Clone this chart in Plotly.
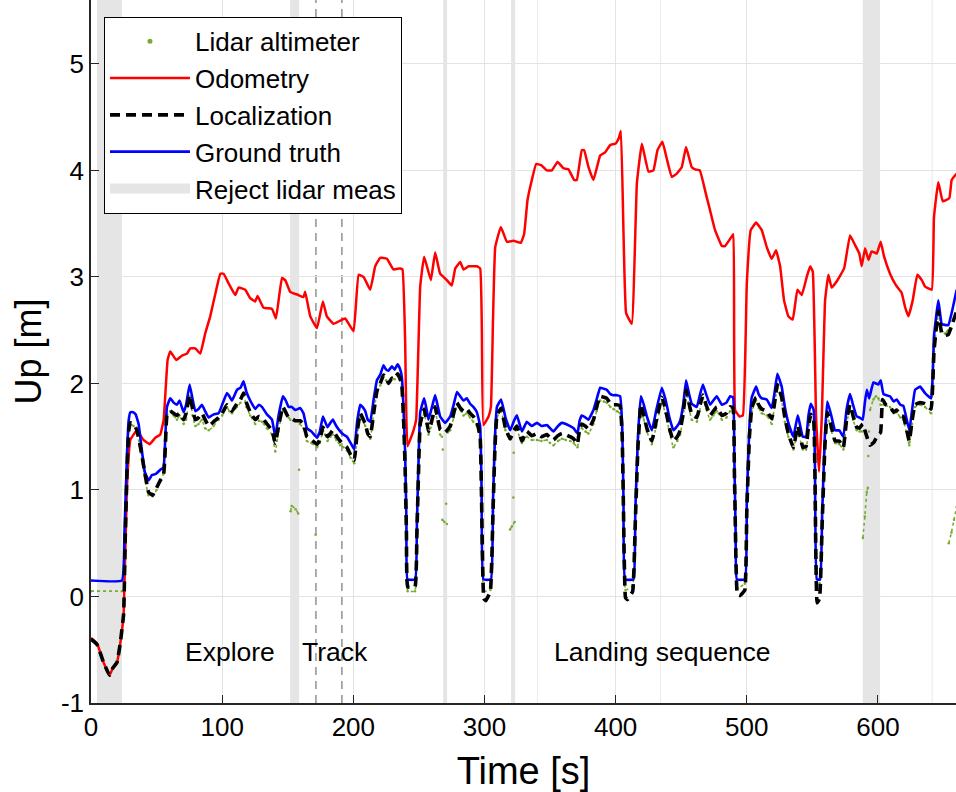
import plotly.graph_objects as go

# ---------------- data ----------------
gt_t = [0, 23.6, 25.5, 27.5, 28.7, 30, 32, 34, 36.3, 38.5, 41, 43.9, 46.4, 49.5, 52.8, 55.3, 56.5, 57.9, 60.4, 63,
        65.5, 67.5, 70.6, 72.5, 75.2, 77.5, 79.5, 82, 84.6, 87, 89.7, 93.5, 97.3, 100, 103.6, 105.5, 107.5, 111.3,
        114, 116.3, 118.5, 121.4, 125.2, 128, 130.3, 134.1, 138, 140.5, 143, 146.3, 148.5, 150.6, 153, 155.7,
        159.5, 162, 164.6, 168, 172.3, 174.5, 176.8, 178.5, 180.3, 182.5, 184.4, 187, 190, 192.5, 195.1, 198,
        200.7, 203, 205.3, 207, 209.1, 211, 212.9, 215.5, 218, 220.5, 223, 225, 226.8, 229.4, 231.5, 233.7,
        235.5, 237, 238.5, 239.5, 240.5, 241.3, 247.2, 248.5, 250, 251, 254, 255.8, 257.3, 260, 262.4, 264.5,
        266.2, 270, 273.9, 276.5, 279, 281.5, 284, 286.5, 289, 291.5, 294.2, 296.7, 297.8, 299.2, 304.9, 306.5,
        308, 309.5, 312.7, 316, 319.6, 322.5, 324.7, 328.5, 332.3, 336, 340, 343.5, 347.6, 350, 352.6, 356, 359,
        362, 365.3, 368, 370.9, 372.5, 374.2, 377, 379.3, 383.1, 385.5, 388.2, 391, 393.3, 396, 398.3, 401,
        403.4, 405, 406, 407.2, 413.6, 415, 417, 419.2, 421.5, 423.8, 427.6, 431, 435.2, 438, 441, 444, 447,
        449.2, 451.5, 453.7, 456, 458, 461.9, 464, 466.5, 469, 472, 474.5, 477.1, 481, 484.5, 487.3, 489.5,
        490.5, 491.5, 492.4, 498.7, 500, 502, 503.8, 507.1, 509, 511.4, 515.2, 519, 521, 523.3, 526.6, 529,
        531.7, 535.5, 538.9, 542.7, 545.2, 547, 548.8, 551, 552, 553.4, 555.9, 557.5, 559.5, 561.4, 564, 567.3,
        570.5, 573.6, 576, 578.7, 581, 583.8, 586, 588.4, 590, 591.5, 593.3, 596.5, 600.3, 602.1, 604.2, 609.2,
        612, 614.3, 617, 619.4, 623.9, 626, 628.3, 632.1, 635.9, 640.5, 641.8, 642.7, 646, 648.6, 651, 653.7,
        656.7, 660]
gt_up = [0.15, 0.15, 0.6, 1.35, 1.65, 1.73, 1.73, 1.71, 1.62, 1.4, 1.17, 1.09, 1.14, 1.15, 1.19, 1.21, 1.45, 1.78,
         1.86, 1.82, 1.80, 1.84, 1.73, 1.80, 1.99, 1.85, 1.74, 1.76, 1.80, 1.74, 1.68, 1.71, 1.72, 1.80, 1.91, 1.88,
         1.84, 1.94, 1.96, 2.02, 1.92, 1.84, 1.76, 1.80, 1.78, 1.71, 1.66, 1.50, 1.70, 1.88, 1.84, 1.78, 1.78, 1.75,
         1.77, 1.72, 1.58, 1.55, 1.49, 1.55, 1.69, 1.64, 1.59, 1.63, 1.66, 1.60, 1.55, 1.52, 1.50, 1.44, 1.38, 1.65,
         1.80, 1.78, 1.74, 1.66, 1.64, 1.85, 2.03, 2.08, 2.17, 2.13, 2.12, 2.16, 2.13, 2.18, 2.14, 2.06, 1.7, 1.35,
         0.7, 0.16, 0.16, 0.7, 1.4, 1.73, 1.86, 1.76, 1.66, 1.78, 1.89, 1.78, 1.69, 1.63, 1.69, 1.80, 1.92, 1.88,
         1.84, 1.86, 1.81, 1.78, 1.73, 1.60, 1.0, 0.16, 0.16, 0.9, 1.5, 1.78, 1.85, 1.68, 1.56, 1.65, 1.70, 1.55,
         1.64, 1.60, 1.63, 1.60, 1.61, 1.58, 1.55, 1.60, 1.63, 1.62, 1.60, 1.58, 1.53, 1.65, 1.70, 1.68, 1.66, 1.75,
         1.85, 1.96, 1.95, 1.94, 1.90, 1.89, 1.89, 1.88, 1.6, 0.9, 0.16, 0.16, 0.8, 1.5, 1.88, 1.80, 1.69, 1.56,
         1.75, 1.96, 1.85, 1.68, 1.56, 1.60, 1.65, 1.80, 2.03, 1.90, 1.81, 1.78, 1.88, 1.99, 1.90, 1.80, 1.84, 1.88,
         1.80, 1.82, 1.88, 1.87, 1.3, 0.6, 0.16, 0.16, 0.9, 1.6, 1.87, 1.97, 1.90, 1.86, 1.85, 1.77, 1.90, 2.09,
         1.97, 1.78, 1.63, 1.50, 1.70, 1.50, 1.50, 1.70, 1.81, 1.75, 1.2, 0.16, 0.16, 0.8, 1.5, 1.83, 1.72, 1.56,
         1.56, 1.50, 1.75, 1.90, 1.80, 1.69, 1.68, 1.66, 1.82, 1.94, 1.86, 2.01, 1.99, 2.03, 1.90, 1.88, 1.83, 1.85,
         1.80, 1.79, 1.56, 1.75, 1.94, 1.97, 1.91, 1.86, 2.1, 2.44, 2.78, 2.56, 2.55, 2.55, 2.69, 2.88]

odo_t = [0, 4.6, 9.6, 14.2, 16.7, 19.8, 22.3, 24.9, 27.4, 30, 35, 40, 44.7, 49, 52.8, 55.4, 58.4, 60.4, 65, 69.3,
         73.2, 75.7, 79.5, 83.3, 87.1, 90.9, 95.5, 98.6, 101.1, 104.9, 110, 112.5, 117.6, 121.4, 125.2, 127,
         131.6, 138, 141, 145.6, 148.1, 151.9, 158.2, 162, 163.3, 167.2, 172.3, 176.8, 179.8, 184.9, 190, 193.8,
         200.2, 204, 207.8, 212.9, 216.7, 220.5, 225.6, 230.6, 235.7, 237.5, 239.5, 241.3, 245.9, 247.9, 251,
         254, 259.1, 262.4, 266.2, 271.3, 275.1, 277.7, 281.5, 284, 287.9, 294.2, 296.7, 298, 299.2, 303.1,
         304.9, 306.5, 308.2, 312.5, 317.1, 322.2, 327.7, 330.2, 332.8, 336.1, 339.4, 343.2, 347.6, 351.4, 355.7,
         360.2, 364, 368.4, 370.4, 374.2, 376, 379.3, 383.1, 388.2, 392, 396, 399.8, 402.3, 404, 406, 408, 412.3,
         416.2, 420, 425, 428.8, 431.9, 435.7, 439, 442.8, 446.6, 450.4, 453.7, 458, 460.6, 464.2, 468.8, 471.9,
         475.8, 481, 483.4, 488.5, 489.8, 491.1, 494.4, 497, 500, 503, 507.1, 511.4, 515.2, 519, 522.3, 525.4,
         528.4, 531.7, 535, 538.6, 541.9, 545.7, 548.3, 550.3, 552.8, 555.1, 557.2, 559.7, 562.2, 564.7, 568.6,
         574.2, 578.7, 582.5, 585.8, 587.6, 590.2, 592.7, 595.2, 599.1, 602.1, 604.7, 609.2, 613.8, 618.1, 620.6,
         623.2, 626.5, 630, 633.4, 635.9, 641, 642.7, 646, 649.4, 654.4, 656.2, 660]
odo_up = [-0.39, -0.44, -0.62, -0.74, -0.67, -0.62, -0.44, -0.16, 1.03, 1.47, 1.56, 1.47, 1.43, 1.49, 1.52, 1.66,
          2.22, 2.30, 2.22, 2.26, 2.28, 2.33, 2.33, 2.28, 2.47, 2.63, 2.88, 3.03, 3.03, 2.94, 2.83, 2.90, 2.88,
          2.80, 2.77, 2.82, 2.71, 2.70, 2.61, 2.99, 2.97, 2.86, 2.83, 2.81, 2.86, 2.63, 2.52, 2.77, 2.63, 2.56,
          2.59, 2.61, 2.49, 3.02, 3.00, 2.88, 3.10, 3.18, 3.17, 3.07, 3.08, 3.07, 2.4, 1.41, 1.56, 1.66, 2.91,
          3.19, 2.97, 3.23, 3.03, 2.97, 2.92, 3.08, 3.14, 3.07, 3.10, 3.10, 3.08, 2.5, 1.61, 1.69, 1.78, 2.6,
          3.28, 3.47, 3.33, 3.34, 3.32, 3.40, 3.72, 3.91, 4.06, 4.05, 4.00, 4.00, 4.08, 4.02, 4.01, 3.91, 3.91,
          4.19, 4.19, 4.03, 3.91, 4.14, 4.17, 4.24, 4.25, 4.30, 4.37, 3.41, 2.66, 2.56, 3.88, 4.25, 3.99, 4.00,
          4.19, 4.27, 4.11, 3.94, 3.97, 4.03, 4.22, 4.03, 4.01, 4.00, 3.78, 3.63, 3.44, 3.29, 3.29, 3.38, 3.40,
          1.75, 1.69, 1.70, 2.94, 3.44, 3.51, 3.44, 3.28, 3.17, 3.25, 3.10, 2.78, 2.63, 2.60, 2.88, 2.83, 3.00,
          3.10, 3.05, 1.69, 1.17, 1.69, 2.78, 3.02, 2.90, 2.96, 3.08, 3.39, 3.30, 3.22, 3.10, 3.27, 3.16, 3.24,
          3.22, 3.33, 3.19, 3.03, 2.92, 2.85, 2.72, 2.63, 2.78, 3.02, 2.97, 2.91, 2.88, 3.56, 3.89, 3.71, 3.74,
          3.91, 3.97]

loc_t = [0, 4.6, 9.6, 14.2, 16.7, 19.8, 22.3, 24.9, 26, 27.5, 28.7, 30, 32.5, 35, 38, 40.5, 43.9, 47, 50, 52.8,
         55.3, 56.5, 57.9, 60.4, 63, 65.5, 67.5, 70.6, 72.5, 75.2, 77.5, 79.5, 82, 84.6, 87, 89.7, 93.5, 97.3, 100,
         103.6, 105.5, 107.5, 111.3, 114, 116.3, 118.5, 121.4, 125.2, 128, 130.3, 134.1, 138, 140.5, 143, 146.3,
         148.5, 150.6, 153, 155.7, 159.5, 162, 164.6, 168, 172.3, 174.5, 176.8, 178.5, 180.3, 182.5, 184.4, 187,
         190, 192.5, 195.1, 198, 200.7, 203, 205.3, 207, 209.1, 211, 212.9, 215.5, 218, 220.5, 223, 225, 226.8,
         229.4, 231.5, 233.7, 235.5, 237, 238.5, 239.5, 240.5, 241.5, 247, 248.5, 250, 251, 254, 255.8, 257.3,
         260, 262.4, 264.5, 266.2, 270, 273.9, 276.5, 279, 281.5, 284, 286.5, 289, 291.5, 294.2, 296.7, 297.8,
         299.5, 301, 304.5, 306.5, 308, 309.5, 312.7, 316, 319.6, 322.5, 324.7, 328.5, 332.3, 336, 340, 343.5,
         347.6, 350, 352.6, 356, 359, 362, 365.3, 368, 370.9, 372.5, 374.2, 377, 379.3, 383.1, 385.5, 388.2, 391,
         393.3, 396, 398.3, 401, 403.4, 405, 406, 407.5, 409, 413, 415, 417, 419.2, 421.5, 423.8, 427.6, 431,
         435.2, 438, 441, 444, 447, 449.2, 451.5, 453.7, 456, 458, 461.9, 464, 466.5, 469, 472, 474.5, 477.1, 481,
         484.5, 487.3, 489.5, 490.5, 491.5, 492.8, 495, 498.5, 500, 502, 503.8, 507.1, 509, 511.4, 515.2, 519,
         521, 523.3, 526.6, 529, 531.7, 535.5, 538.9, 542.7, 545.2, 547, 548.8, 551, 552, 553.6, 555.5, 557.5,
         559.5, 561.4, 564, 567.3, 570.5, 573.6, 576, 578.7, 581, 583.8, 586, 588.4, 591, 594, 597, 600, 602,
         603.5, 606, 609.2, 612, 614.3, 617, 619.4, 623.9, 626, 628.3, 632.1, 635.9, 640.5, 641.8, 642.7, 646,
         648.6, 651, 653.7, 656.7, 660]
loc_up = [-0.40, -0.45, -0.62, -0.74, -0.67, -0.62, -0.44, -0.16, 0.5, 1.2, 1.55, 1.63, 1.62, 1.56, 1.38, 1.2,
          0.98, 0.95, 1.02, 1.09, 1.14, 1.35, 1.70, 1.74, 1.72, 1.70, 1.72, 1.66, 1.72, 1.89, 1.76, 1.66, 1.68,
          1.72, 1.66, 1.60, 1.64, 1.68, 1.72, 1.80, 1.77, 1.74, 1.81, 1.85, 1.91, 1.82, 1.73, 1.66, 1.69, 1.68,
          1.62, 1.56, 1.44, 1.60, 1.78, 1.73, 1.68, 1.67, 1.65, 1.65, 1.62, 1.50, 1.47, 1.43, 1.47, 1.59, 1.55,
          1.50, 1.53, 1.56, 1.51, 1.46, 1.43, 1.40, 1.33, 1.28, 1.55, 1.72, 1.68, 1.62, 1.53, 1.50, 1.72, 1.93,
          2.00, 2.08, 2.05, 2.00, 2.05, 2.04, 2.09, 2.05, 1.98, 1.6, 1.2, 0.6, 0.09, 0.09, 0.6, 1.3, 1.62, 1.76,
          1.66, 1.55, 1.66, 1.78, 1.66, 1.57, 1.54, 1.60, 1.72, 1.82, 1.77, 1.74, 1.76, 1.72, 1.69, 1.64, 1.50,
          0.9, -0.02, -0.04, 0.05, 0.8, 1.4, 1.70, 1.77, 1.58, 1.48, 1.56, 1.60, 1.46, 1.55, 1.51, 1.53, 1.50,
          1.52, 1.49, 1.47, 1.51, 1.53, 1.52, 1.50, 1.48, 1.43, 1.58, 1.62, 1.60, 1.57, 1.66, 1.78, 1.88, 1.87,
          1.86, 1.81, 1.80, 1.80, 1.79, 1.5, 0.8, -0.01, -0.03, 0.05, 0.7, 1.4, 1.80, 1.70, 1.58, 1.46, 1.65,
          1.87, 1.76, 1.58, 1.46, 1.50, 1.56, 1.72, 1.94, 1.81, 1.71, 1.68, 1.78, 1.89, 1.80, 1.70, 1.74, 1.78,
          1.70, 1.72, 1.78, 1.77, 1.2, 0.5, 0.02, 0.01, 0.06, 0.8, 1.5, 1.77, 1.87, 1.80, 1.76, 1.74, 1.67, 1.80,
          1.99, 1.87, 1.68, 1.53, 1.40, 1.60, 1.40, 1.41, 1.60, 1.71, 1.65, 1.1, -0.06, -0.02, 0.7, 1.4, 1.73,
          1.62, 1.46, 1.46, 1.40, 1.65, 1.80, 1.70, 1.59, 1.58, 1.62, 1.52, 1.42, 1.45, 1.52, 1.54, 1.85, 1.80,
          1.78, 1.73, 1.75, 1.70, 1.69, 1.46, 1.65, 1.80, 1.82, 1.81, 1.76, 2.0, 2.30, 2.68, 2.47, 2.45, 2.46,
          2.56, 2.68]

# Lidar altimeter samples (None = no measurement / separate segment)
lidar_t = [0, 23.6, None,
           26, 27.5, 28.7, 30, 32.5, 35, 38, 40.5, 43.9, 47, 50, 52.8, 55.3, 56.5, 57.9, 60.4, 63, 65.5, 67.5,
           70.6, 72.5, 75.2, 77.5, 79.5, 82, 84.6, 87, 89.7, 93.5, 97.3, 100, 103.6, 105.5, 107.5, 111.3, 114,
           116.3, 118.5, 121.4, 125.2, 128, 130.3, 134.1, 138, 140.5, 143, 146.3, 148.5, 150.6, 152, None,
           152.2, 153, 156, 158, None, 158.6, None, 171.2, None,
           159.2, 162, 164.6, 168, 172.3, 174.5, 176.8, 178.5, 180.3, 182.5, 184.4, 187, 190, 192.5, 195.1, 198,
           200.7, 203, 205.3, 207, 209.1, 211, 212.9, 215.5, 218, 220.5, 223, 225, 226.8, 229.4, 231.5, 233.7,
           235.5, 237, 238.5, 239.5, 240.5, 241.5, 247, 248.5, 250, 251, 254, 255.8, 257.3, 260, 262.4, 264.5,
           266.2, 267.5, None,
           267.8, 269.5, 271.3, None, 268.2, None, 270.8, None,
           272, 273.9, 276.5, 279, 281.5, 284, 286.5, 289, 291.5, 294.2, 296.7, 297.8, 299.5, 304.5, 306.5, 308,
           309.5, 312.7, 316, 319, None,
           319.5, 321, 323, None, 322, None, 322.3, None,
           324, 324.7, 328.5, 332.3, 336, 340, 343.5, 347.6, 350, 352.6, 356, 359, 362, 365.3, 368, 370.9,
           372.5, 374.2, 377, 379.3, 383.1, 385.5, 388.2, 391, 393.3, 396, 398.3, 401, 403.4, 405, 406, 407.5,
           413, 415, 417, 419.2, 421.5, 423.8, 427.6, 431, 435.2, 438, 441, 444, 447, 449.2, 451.5, 453.7, 456,
           458, 461.9, 464, 466.5, 469, 472, 474.5, 477.1, 481, 484.5, 487.3, 489.5, 490.5, 491.5, 492.8, 498.5,
           500, 502, 503.8, 507.1, 509, 511.4, 515.2, 519, 521, 523.3, 526.6, 529, 531.7, 535.5, 538.9, 542.7,
           545.2, 547, 548.8, 551, 552, 553.6, 555.5, 557.5, 559.5, 561.4, 564, 567.3, 570.5, 573.6, 576, 578.7,
           581, 583.8, 586, 588, None,
           588.5, 590, 591.5, 592.3, None, 592.6, None, 593.1, None,
           594, 596.5, 598.5, 600.3, 602, 604.2, 609.2, 612, 614.3, 617, 619.4, 623.9, 626, 628.3, 632.1, 635.9,
           640.5, 641.8, 642.7, 646, 648.6, 651, 653.5, None,
           654, 656, 658, 660]
lidar_up = [0.05, 0.05, None,
            0.5, 1.25, 1.55, 1.62, 1.60, 1.55, 1.35, 1.15, 0.95, 0.94, 1.0, 1.08, 1.15, 1.4, 1.70, 1.74, 1.70,
            1.66, 1.70, 1.62, 1.66, 1.88, 1.70, 1.60, 1.62, 1.66, 1.58, 1.56, 1.60, 1.66, 1.70, 1.78, 1.74, 1.72,
            1.78, 1.82, 1.90, 1.78, 1.70, 1.62, 1.65, 1.64, 1.58, 1.52, 1.36, 1.55, 1.75, 1.72, 1.68, 1.66, None,
            0.80, 0.85, 0.82, 0.78, None, 1.19, None, 0.58, None,
            1.62, 1.58, 1.46, 1.44, 1.40, 1.44, 1.56, 1.52, 1.46, 1.50, 1.52, 1.47, 1.42, 1.40, 1.37, 1.30, 1.25,
            1.52, 1.70, 1.66, 1.60, 1.52, 1.48, 1.72, 1.92, 1.98, 2.06, 2.03, 2.00, 2.05, 2.04, 2.08, 2.04, 1.96,
            1.6, 1.2, 0.6, 0.05, 0.05, 0.6, 1.3, 1.60, 1.72, 1.62, 1.52, 1.62, 1.74, 1.62, 1.52, 1.50, None,
            0.72, 0.70, 0.68, None, 1.38, None, 0.87, None,
            1.54, 1.56, 1.68, 1.80, 1.75, 1.70, 1.72, 1.68, 1.64, 1.60, 1.48, 0.9, 0.05, 0.06, 0.8, 1.4, 1.68,
            1.74, 1.56, 1.48, None,
            0.63, 0.66, 0.70, None, 0.93, None, 1.35, None,
            1.56, 1.57, 1.44, 1.50, 1.47, 1.47, 1.46, 1.47, 1.44, 1.42, 1.46, 1.48, 1.47, 1.46, 1.44, 1.40, 1.52,
            1.58, 1.55, 1.53, 1.62, 1.74, 1.84, 1.83, 1.82, 1.78, 1.76, 1.74, 1.72, 1.45, 0.8, 0.06, 0.10, 0.7,
            1.4, 1.76, 1.66, 1.55, 1.43, 1.60, 1.82, 1.72, 1.55, 1.40, 1.46, 1.52, 1.68, 1.92, 1.78, 1.66, 1.64,
            1.74, 1.86, 1.76, 1.66, 1.70, 1.74, 1.66, 1.68, 1.74, 1.74, 1.2, 0.5, 0.08, 0.12, 0.8, 1.5, 1.74,
            1.84, 1.77, 1.72, 1.70, 1.62, 1.78, 1.98, 1.84, 1.64, 1.50, 1.38, 1.56, 1.38, 1.38, 1.56, 1.68, 1.62,
            1.1, 0.10, 0.12, 0.7, 1.4, 1.70, 1.58, 1.44, 1.43, 1.38, 1.62, 1.76, 1.66, 1.56, 1.55, 1.55, None,
            0.55, 0.75, 0.98, 1.02, None, 1.32, None, 1.55, None,
            1.75, 1.85, 1.88, 1.86, 1.80, 1.80, 1.78, 1.72, 1.73, 1.68, 1.66, 1.42, 1.62, 1.78, 1.80, 1.78, 1.72,
            2.0, 2.3, 2.66, 2.50, 2.47, 2.50, None,
            0.50, 0.60, 0.72, 0.84]

reject_start = [4.6, 151.8, 268.5, 320.3, 340.0, 434.0, 588.4, 641.0]
reject_end = [23.6, 158.7, 271.5, 323.4, 340.6, 434.6, 601.6, 641.6]

phase_lines = [171.5, 191.3]
phase_labels = ["Explore", "Track", "Landing sequence"]
phase_label_t = [106, 186, 436]
phase_label_up = -0.52

x_ticks = [0, 100, 200, 300, 400, 500, 600]
y_ticks = [-1, 0, 1, 2, 3, 4, 5]
x_range = [0, 659.5]
y_range = [-1, 5.6]

# ---------------- figure ----------------
FONT = "Liberation Sans, Arial, Helvetica, sans-serif"
BAND = "#e5e5e5"
fig = go.Figure()

# reject lidar measurement bands
bx, by = [], []
for s, e in zip(reject_start, reject_end):
    bx += [s, s, e, e, s, None]
    by += [y_range[0], y_range[1], y_range[1], y_range[0], y_range[0], None]
fig.add_trace(go.Scatter(x=bx, y=by, mode="lines", fill="toself", fillcolor=BAND,
                         line=dict(width=0, color=BAND), showlegend=False, hoverinfo="skip"))
fig.add_trace(go.Scatter(x=[None], y=[None], mode="lines", name="Reject lidar meas",
                         line=dict(width=24, color=BAND), legendrank=5))

# lidar altimeter (dotted)
fig.add_trace(go.Scatter(x=lidar_t, y=lidar_up, mode="lines+markers", connectgaps=False,
                         line=dict(color="#77AC30", width=1.6, dash="dot", shape="spline", smoothing=0.3),
                         marker=dict(color="#77AC30", size=2.5), showlegend=False))
fig.add_trace(go.Scatter(x=[None], y=[None], mode="markers", name="Lidar altimeter",
                         marker=dict(color="#77AC30", size=5), legendrank=1))

fig.add_trace(go.Scatter(x=odo_t, y=odo_up, mode="lines", name="Odometry",
                         line=dict(color="#ff0000", width=2.5, shape="spline", smoothing=0.3),
                         legendrank=2))
fig.add_trace(go.Scatter(x=gt_t, y=gt_up, mode="lines", name="Ground truth",
                         line=dict(color="#0000ff", width=2.6, shape="spline", smoothing=0.3),
                         legendrank=4))
fig.add_trace(go.Scatter(x=loc_t, y=loc_up, mode="lines", name="Localization",
                         line=dict(color="#000000", width=3.6, dash="10px,6px", shape="spline", smoothing=0.3),
                         legendrank=3))

for xv in phase_lines:
    fig.add_vline(x=xv, line=dict(color="#808080", width=1.3, dash="8px,6px"), layer="below")

for lab, tx in zip(phase_labels, phase_label_t):
    fig.add_annotation(x=tx, y=phase_label_up, text=lab, showarrow=False,
                       font=dict(family=FONT, size=26.5, color="#000000"))

axis_common = dict(showgrid=True, gridcolor="#e3e3e3", gridwidth=1, zeroline=False,
                   showline=True, linecolor="#262626", linewidth=1.5, mirror=False,
                   ticks="inside", ticklen=8, tickwidth=1.3, tickcolor="#262626",
                   tickfont=dict(family=FONT, size=26, color="#000000"))

fig.update_xaxes(range=x_range, tickvals=x_ticks, ticktext=[str(v) for v in x_ticks],
                 title=dict(text="Time [s]", font=dict(family=FONT, size=38, color="#000000"), standoff=20),
                 **axis_common)
fig.update_yaxes(range=y_range, tickvals=y_ticks, ticktext=[str(v) for v in y_ticks],
                 title=dict(text="Up [m]", font=dict(family=FONT, size=36, color="#000000"), standoff=8),
                 **axis_common)

fig.update_layout(
    width=956, height=792,
    margin=dict(l=91, r=0, t=0, b=89),
    plot_bgcolor="#ffffff", paper_bgcolor="#ffffff",
    font=dict(family=FONT, color="#000000"),
    legend=dict(x=0.015, y=0.976, xanchor="left", yanchor="top",
                bgcolor="#ffffff", bordercolor="#000000", borderwidth=1,
                font=dict(family=FONT, size=26, color="#000000"),
                itemwidth=80, traceorder="normal", tracegroupgap=0),
    showlegend=True,
)

fig.write_html("out.html")
